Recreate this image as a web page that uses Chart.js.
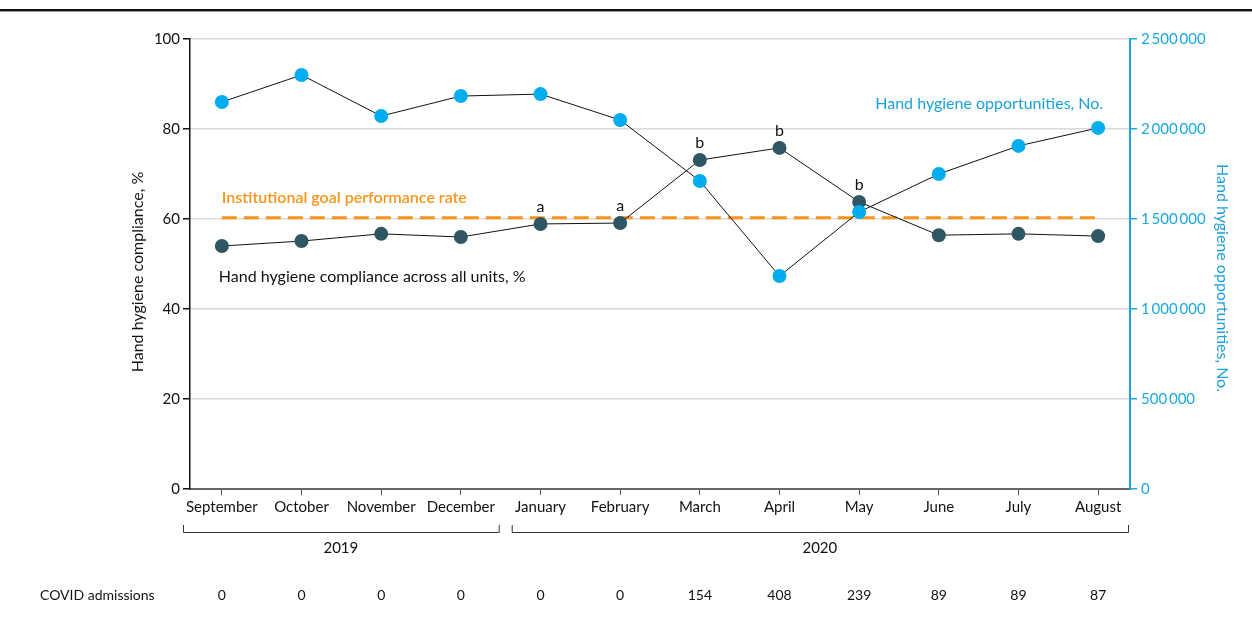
<!DOCTYPE html>
<html><head><meta charset="utf-8">
<script src="https://cdn.jsdelivr.net/npm/chart.js@4.4.1/dist/chart.umd.min.js"></script>
<style>html,body{margin:0;padding:0;background:#fff}#wrap{width:1252px;height:617px;position:relative}</style>
</head><body><div id="wrap"><canvas id="c" width="1252" height="617"></canvas></div>
<script>
const months = ['September','October','November','December','January','February','March','April','May','June','July','August'];
const compliance = [54.0, 55.1, 56.7, 56.0, 58.9, 59.1, 73.1, 75.8, 63.8, 56.4, 56.7, 56.2];
const opportunities = [2150000, 2300000, 2072000, 2183000, 2194000, 2050000, 1711000, 1183000, 1539000, 1750000, 1906000, 2006000];
const goalRate = 60.3;
const covidAdmissions = [0, 0, 0, 0, 0, 0, 154, 408, 239, 89, 89, 87];
const significance = ['', '', '', '', 'a', 'a', 'b', 'b', 'b', '', '', ''];
const leftTicks = [0, 20, 40, 60, 80, 100];
const rightTicks = [0, 500000, 1000000, 1500000, 2000000, 2500000];
const years = [{label:'2019', from:0, to:3}, {label:'2020', from:4, to:11}];

const FONT = 'Lato, "Open Sans", sans-serif';
const DARK = '#2E5763', BLUE = '#00AEEF', ORANGE = '#F7941D', AXBLUE = '#1BA9E1';

const fmt = v => String(v).replace(/\B(?=(\d{3})+(?!\d))/g, '\u2009');

const overlay = {
  id: 'overlay',
  afterDraw(chart) {
    const ctx = chart.ctx, xs = chart.scales.x, yl = chart.scales.y, ca = chart.chartArea;
    ctx.save();
    // top rule
    ctx.fillStyle = '#111'; ctx.fillRect(0, 9, 1252, 2);
    ctx.fillStyle = '#999'; ctx.fillRect(0, 11, 1252, 1);
    // significance letters
    ctx.font = '16px ' + FONT; ctx.fillStyle = '#111'; ctx.textAlign = 'center'; ctx.textBaseline = 'alphabetic';
    significance.forEach((s, i) => { if (s) ctx.fillText(s, xs.getPixelForValue(i), yl.getPixelForValue(compliance[i]) - 12); });
    // series labels
    ctx.textBaseline = 'middle';
    ctx.fillStyle = '#1BA1D9'; ctx.textAlign = 'right';
    ctx.fillText('Hand hygiene opportunities, No.', xs.getPixelForValue(11) + 5, 104);
    ctx.fillStyle = ORANGE; ctx.textAlign = 'left'; ctx.font = '600 16px ' + FONT;
    ctx.fillText('Institutional goal performance rate', xs.getPixelForValue(0), 198);
    ctx.fillStyle = '#111'; ctx.font = '16px ' + FONT;
    ctx.fillText('Hand hygiene compliance across all units, %', xs.getPixelForValue(0) - 3, 277);
    // axis titles
    ctx.save(); ctx.translate(138, 272); ctx.rotate(-Math.PI / 2); ctx.textAlign = 'center';
    ctx.fillStyle = '#111'; ctx.fillText('Hand hygiene compliance, %', 0, 0); ctx.restore();
    ctx.save(); ctx.translate(1222, 278); ctx.rotate(Math.PI / 2); ctx.textAlign = 'center';
    ctx.fillStyle = '#1BA1D9'; ctx.fillText('Hand hygiene opportunities, No.', 0, 0); ctx.restore();
    // year brackets
    ctx.strokeStyle = '#333'; ctx.lineWidth = 1;
    const half = (xs.getPixelForValue(1) - xs.getPixelForValue(0)) / 2;
    years.forEach((yr, k) => {
      const x0 = k === 0 ? ca.left - 7 : xs.getPixelForValue(yr.from) - half + 11;
      const x1 = k === 0 ? xs.getPixelForValue(yr.to) + half - 2 : ca.right - 2;
      ctx.beginPath(); ctx.moveTo(x0 + 0.5, 525); ctx.lineTo(x0 + 0.5, 532.5); ctx.lineTo(x1 + 0.5, 532.5); ctx.lineTo(x1 + 0.5, 525); ctx.stroke();
      ctx.fillStyle = '#111'; ctx.textAlign = 'center'; ctx.font = '15px ' + FONT;
      ctx.fillText(yr.label, (x0 + x1) / 2, 548);
    });
    // COVID admissions row
    ctx.font = '14px "Liberation Sans Narrow", ' + FONT; ctx.textAlign = 'left'; ctx.fillStyle = '#111';
    ctx.fillText('COVID admissions', 40, 595);
    ctx.textAlign = 'center';
    covidAdmissions.forEach((v, i) => ctx.fillText(String(v), xs.getPixelForValue(i), 595));
    ctx.restore();
  }
};

new Chart(document.getElementById('c'), {
  type: 'line',
  data: {
    datasets: [
      { label: 'Hand hygiene opportunities, No.', yAxisID: 'y2', order: 1,
        data: opportunities.map((v, i) => ({x: i, y: v})),
        borderColor: '#111', borderWidth: 1, pointRadius: 7, pointBackgroundColor: BLUE, pointBorderWidth: 0, tension: 0 },
      { label: 'Hand hygiene compliance across all units, %', yAxisID: 'y', order: 2,
        data: compliance.map((v, i) => ({x: i, y: v})),
        borderColor: '#111', borderWidth: 1, pointRadius: 7, pointBackgroundColor: DARK, pointBorderWidth: 0, tension: 0 },
      { label: 'Institutional goal performance rate', yAxisID: 'y', order: 3,
        data: [{x: 0, y: goalRate}, {x: months.length - 1, y: goalRate}],
        borderColor: ORANGE, borderWidth: 3, borderDash: [15, 7], pointRadius: 0 }
    ]
  },
  options: {
    responsive: false, animation: false, devicePixelRatio: 1,
    layout: { padding: { top: 39, left: 0, right: 0, bottom: 0 } },
    plugins: { legend: { display: false }, tooltip: { enabled: false } },
    scales: {
      x: { type: 'linear', position: 'bottom', min: -0.4, max: months.length - 0.6,
        afterBuildTicks: s => { s.ticks = months.map((_, i) => ({ value: i })); },
        afterFit: s => { s.height = 128; },
        grid: { drawOnChartArea: false, tickLength: 6, tickColor: '#555', tickWidth: 1 },
        border: { color: '#666', width: 2 },
        ticks: { callback: v => months[v], font: { family: FONT, size: 15 }, color: '#111', padding: 3, maxRotation: 0, autoSkip: false }
      },
      y: { position: 'left', min: 0, max: 100,
        afterBuildTicks: s => { s.ticks = leftTicks.map(v => ({ value: v })); },
        afterFit: s => { s.width = 190; },
        grid: { color: '#DADADA', lineWidth: 1.5, tickLength: 7, tickColor: '#111' },
        border: { color: '#111', width: 1.5 },
        ticks: { font: { family: FONT, size: 15 }, color: '#111', padding: 3 }
      },
      y2: { position: 'right', min: 0, max: 2500000,
        afterBuildTicks: s => { s.ticks = rightTicks.map(v => ({ value: v })); },
        afterFit: s => { s.width = 122; },
        grid: { drawOnChartArea: false, tickLength: 7, tickColor: AXBLUE, lineWidth: 1.5 },
        border: { color: AXBLUE, width: 2 },
        ticks: { font: { family: FONT, size: 15 }, color: AXBLUE, padding: 4, callback: v => fmt(v) }
      }
    }
  },
  plugins: [overlay]
});
</script></body></html>
